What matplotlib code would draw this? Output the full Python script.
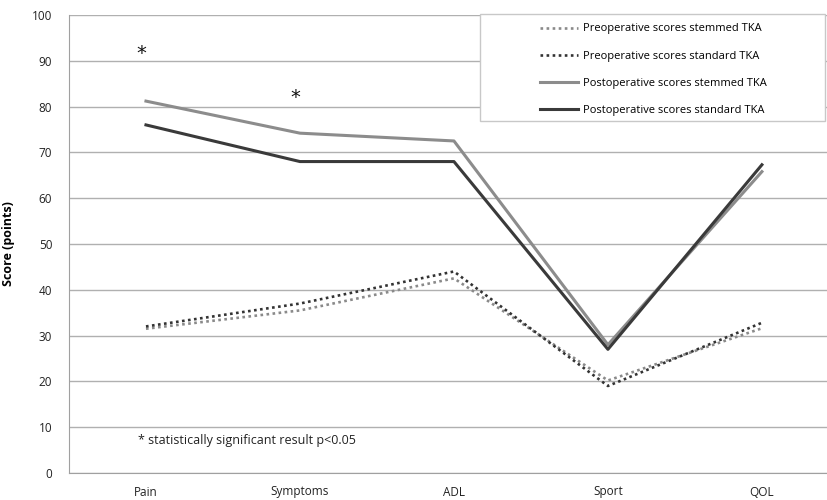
import numpy as np
import matplotlib
matplotlib.use("Agg")
import matplotlib.pyplot as plt
from matplotlib.patches import Rectangle

plt.rcParams['font.family'] = ['Open Sans', 'DejaVu Sans']

categories = ["Pain", "Symptoms", "ADL", "Sport", "QOL"]
pre_stemmed = [31.5, 35.5, 42.5, 20.2, 31.6]
pre_standard = [32.0, 37.0, 44.0, 19.0, 32.8]
post_stemmed = [81.2, 74.2, 72.5, 28.0, 65.8]
post_standard = [76.0, 68.0, 68.0, 27.0, 67.3]

# significance markers: (category index, height)
sig_marks = [(0, 91.5), (1, 82.0)]

fig = plt.figure(figsize=(8.27, 5.0), dpi=100)
ax = fig.add_axes([0.0834, 0.054, 0.931, 0.916])

x = np.arange(len(categories))

ax.plot(x, pre_stemmed, color='#8a8a8a', lw=1.9, ls=(0, (1, 1.3)),
        label='Preoperative scores stemmed TKA')
ax.plot(x, pre_standard, color='#333333', lw=1.9, ls=(0, (1, 1.3)),
        label='Preoperative scores standard TKA')
ax.plot(x, post_stemmed, color='#8c8c8c', lw=2.2,
        label='Postoperative scores stemmed TKA')
ax.plot(x, post_standard, color='#3a3a3a', lw=2.2,
        label='Postoperative scores standard TKA')

for i, h in sig_marks:
    ax.text(x[i] - 0.03, h, '*', ha='center', va='center', fontsize=14,
            color='#111111', family='DejaVu Sans')

ax.text(-0.05, 7, '* statistically significant result p<0.05', fontsize=9,
        color='#222222', va='center', ha='left')

ax.set_xlim(-0.5, 4.5)
ax.set_ylim(0, 100)
ax.set_yticks(np.arange(0, 101, 10))
ax.set_xticks(x)
ax.set_xticklabels(categories)
ax.tick_params(axis='both', length=0, labelsize=8.5, colors='#222222')
ax.tick_params(axis='x', pad=9)
ax.tick_params(axis='y', pad=12)
ax.set_ylabel('Score (points)', fontsize=9, fontweight='bold', labelpad=12)

ax.grid(axis='y', color='#b0b0b0', lw=1.0)
ax.set_axisbelow(True)
for s in ['top', 'right']:
    ax.spines[s].set_visible(False)
for s in ['left', 'bottom']:
    ax.spines[s].set_color('#a0a0a0')

# legend box drawn separately (wide padding on the left, like the original)
box = Rectangle((480 / 827, 1 - 121 / 500), 345 / 827, 107 / 500,
                transform=fig.transFigure, facecolor='white',
                edgecolor='#c8c8c8', lw=1.0, zorder=4.5)
fig.patches.append(box)

leg = fig.legend(loc='upper left', bbox_to_anchor=(540 / 827, 1 - 23.5 / 500),
                 fontsize=8, frameon=False, handlelength=3.4,
                 labelspacing=1.45, borderpad=0, handletextpad=0.45,
                 borderaxespad=0)

fig.savefig('out.png', dpi=100)
